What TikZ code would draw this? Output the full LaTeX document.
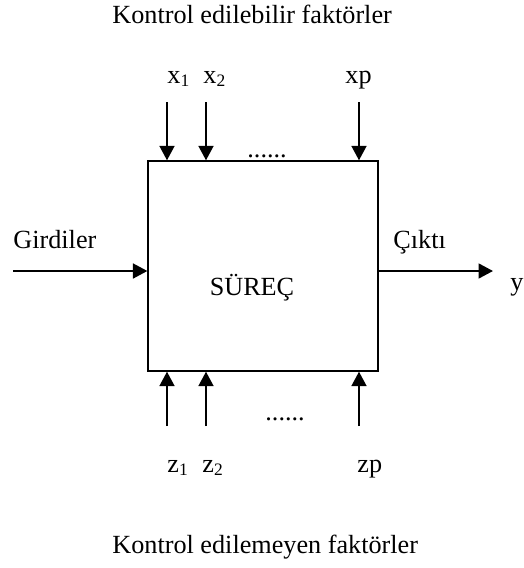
\documentclass[tikz,border=0pt]{standalone}
\usepackage{fontspec}
\setmainfont{Liberation Serif}
\usepackage{tikz}
\usetikzlibrary{arrows.meta}

\begin{document}
\begin{tikzpicture}[x=0.458pt, y=-0.458pt, font=\fontsize{12}{14}\selectfont,
                    arr/.style={-{Triangle[width=6.8pt,length=6.6pt]}, line width=0.95pt},
                    lbl/.style={inner sep=0pt, anchor=base west}]
                \useasboundingbox (0,0) rectangle (524,568);
                \node[draw, line width=0.6pt, minimum width=105.3pt, minimum height=96.2pt] (surec) at (263,266) {};
                \node[inner sep=0pt, anchor=base] (surecl) at (252,295) {SÜREÇ};
                % kontrol edilebilir
                \node[lbl] (ustbaslik) at (112,23) {Kontrol edilebilir faktörler};
                \node[lbl] (x1l) at (167,83) {x\textsubscript{1}};
                \node[lbl] (x2l) at (203,83) {x\textsubscript{2}};
                \node[lbl] (xpl) at (345,83) {xp};
                \coordinate (x1) at (167,102);
                \coordinate (x2) at (206,102);
                \coordinate (xp) at (359,102);
                \draw[arr] (x1) -- (x1 |- surec.north);
                \draw[arr] (x2) -- (x2 |- surec.north);
                \draw[arr] (xp) -- (xp |- surec.north);
                \node[lbl] (ustnokta) at (247,157) {......};
                % girdi ve cikti
                \node[lbl] (girdil) at (13,248) {Girdiler};
                \node[lbl] (ciktil) at (393,248) {Çıktı};
                \node[lbl] (yl) at (510,290) {y};
                \coordinate (girdi) at (13,271);
                \coordinate (cikti) at (493,271);
                \draw[arr] (girdi) -- (girdi -| surec.west);
                \draw[arr] (cikti -| surec.east) -- (cikti);
                % kontrol edilemeyen
                \coordinate (z1) at (167,426);
                \coordinate (z2) at (206,426);
                \coordinate (zp) at (359,426);
                \draw[arr] (z1) -- (z1 |- surec.south);
                \draw[arr] (z2) -- (z2 |- surec.south);
                \draw[arr] (zp) -- (zp |- surec.south);
                \node[lbl] (altnokta) at (265,420) {......};
                \node[lbl] (z1l) at (167,472) {z\textsubscript{1}};
                \node[lbl] (z2l) at (202,472) {z\textsubscript{2}};
                \node[lbl] (zpl) at (357,472) {zp};
                \node[lbl] (altbaslik) at (112,553) {Kontrol edilemeyen faktörler};
            \end{tikzpicture}
\end{document}
